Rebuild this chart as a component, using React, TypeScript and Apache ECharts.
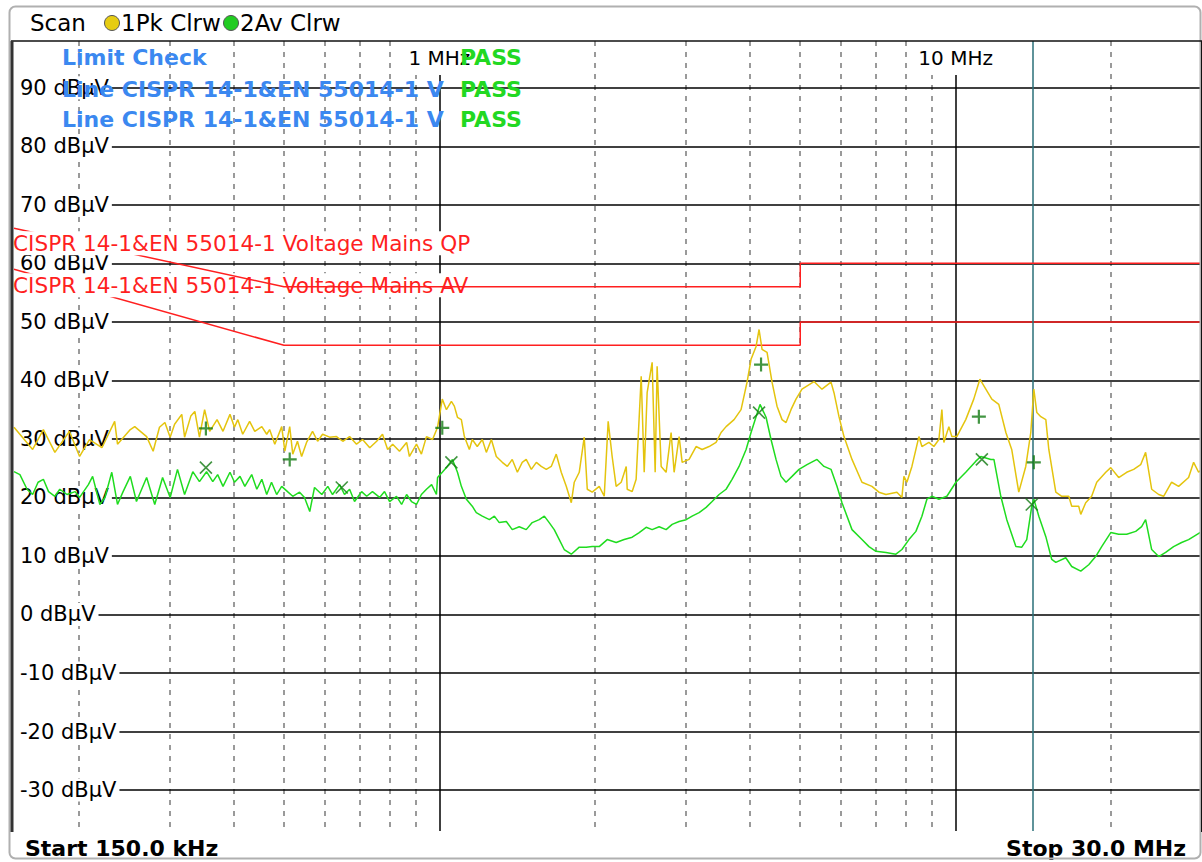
import React, { useEffect, useRef } from "react";
import * as echarts from "echarts";

// ---- Data (frequencies in MHz, levels in dBµV) ----
const PK_FREQ_MHZ = [
  0.150, 0.163, 0.171, 0.180, 0.192, 0.201, 0.210, 0.222, 0.235, 0.238,
  0.252, 0.257, 0.271, 0.279, 0.287, 0.294, 0.301, 0.307, 0.317, 0.321,
  0.330, 0.336, 0.343, 0.351, 0.359, 0.371, 0.381, 0.393, 0.401, 0.407,
  0.416, 0.429, 0.439, 0.453, 0.463, 0.469, 0.480, 0.495, 0.502, 0.513,
  0.520, 0.531, 0.541, 0.553, 0.568, 0.581, 0.594, 0.613, 0.632, 0.650,
  0.670, 0.691, 0.710, 0.733, 0.756, 0.776, 0.794, 0.812, 0.837, 0.864,
  0.875, 0.903, 0.923, 0.944, 0.970, 0.992, 1.013, 1.032, 1.055, 1.069,
  1.084, 1.103, 1.118, 1.143, 1.158, 1.184, 1.211, 1.233, 1.261, 1.289,
  1.324, 1.354, 1.384, 1.416, 1.447, 1.473, 1.507, 1.541, 1.575, 1.611,
  1.647, 1.684, 1.722, 1.761, 1.801, 1.825, 1.866, 1.908, 1.934, 1.977,
  2.040, 2.086, 2.123, 2.161, 2.200, 2.250, 2.301, 2.311, 2.363, 2.405,
  2.460, 2.493, 2.526, 2.583, 2.618, 2.641, 2.689, 2.749, 2.811, 2.849,
  2.913, 2.953, 3.046, 3.142, 3.228, 3.330, 3.435, 3.513, 3.592, 3.722,
  3.840, 3.944, 4.015, 4.106, 4.161, 4.217, 4.312, 4.409, 4.508, 4.610,
  4.693, 4.798, 4.906, 5.039, 5.316, 5.509, 5.735, 5.812, 5.943, 6.077,
  6.298, 6.584, 6.884, 7.102, 7.327, 7.695, 7.868, 7.939, 8.046, 8.227,
  8.488, 8.602, 8.874, 9.074, 9.279, 9.404, 9.488, 9.701, 9.831, 10.05,
  10.46, 10.84, 11.14, 11.44, 11.75, 12.12, 12.51, 12.84, 13.25, 13.67,
  13.98, 14.17, 14.36, 14.62, 14.95, 15.15, 15.63, 16.05, 16.56, 16.78,
  17.31, 17.47, 17.86, 18.34, 18.76, 19.53, 19.97, 20.69, 21.44, 22.12,
  22.82, 23.33, 23.97, 24.73, 25.28, 26.20, 27.03, 28.26, 28.90, 29.55,
  30.0,
];
const PK_LEVEL = [
  32.0, 28.2, 31.6, 27.7, 31.3, 27.0, 29.9, 28.5, 33.0, 29.1,
  31.6, 32.1, 30.4, 27.9, 32.0, 32.8, 30.3, 32.5, 34.2, 30.3,
  33.9, 34.7, 30.3, 35.0, 31.3, 33.3, 31.3, 34.2, 32.0, 33.3,
  30.8, 33.0, 31.3, 32.1, 30.8, 31.6, 29.1, 32.1, 27.9, 32.1,
  27.4, 29.6, 27.0, 29.4, 31.3, 29.6, 30.8, 30.3, 30.4, 29.6,
  30.4, 29.1, 29.9, 28.5, 29.6, 30.8, 28.2, 29.1, 27.9, 29.4,
  27.0, 29.1, 27.4, 30.4, 29.9, 32.0, 36.8, 35.0, 36.4, 35.6,
  33.7, 33.3, 30.4, 28.2, 29.9, 28.7, 29.9, 27.7, 29.9, 27.0,
  26.0, 25.3, 26.5, 24.3, 26.0, 26.5, 24.8, 26.0, 25.3, 24.8,
  25.3, 27.4, 24.3, 21.9, 19.1, 22.6, 24.3, 30.3, 21.4, 20.9,
  21.9, 20.2, 33.0, 27.0, 21.9, 22.6, 25.3, 21.4, 21.0, 23.1,
  40.7, 24.3, 37.9, 43.1, 24.3, 42.4, 25.3, 24.3, 31.1, 24.3,
  30.4, 26.0, 26.5, 28.7, 28.2, 28.7, 29.4, 31.1, 32.1, 33.3,
  35.0, 39.7, 43.6, 45.8, 48.7, 45.3, 44.8, 39.7, 35.6, 33.3,
  32.8, 35.0, 36.8, 38.5, 39.8, 38.5, 39.7, 37.9, 33.8, 30.4,
  26.5, 22.6, 21.9, 20.9, 20.5, 20.9, 20.0, 23.6, 22.6, 25.3,
  30.4, 28.7, 29.4, 28.7, 29.9, 35.0, 29.4, 32.1, 30.4, 30.4,
  33.3, 36.8, 40.2, 38.5, 36.8, 35.9, 31.1, 28.2, 20.9, 25.3,
  31.1, 38.5, 34.5, 33.8, 33.3, 28.2, 20.9, 20.2, 20.2, 18.5,
  18.5, 17.1, 19.1, 20.2, 22.6, 24.3, 25.1, 23.4, 24.3, 24.8,
  25.6, 27.7, 21.4, 20.5, 20.2, 22.6, 21.9, 23.4, 26.0, 24.3,
  24.8,
];

const AV_FREQ_MHZ = [
  0.150, 0.154, 0.159, 0.163, 0.167, 0.171, 0.175, 0.180, 0.184, 0.190,
  0.197, 0.201, 0.209, 0.213, 0.220, 0.225, 0.232, 0.238, 0.244, 0.252,
  0.259, 0.271, 0.281, 0.291, 0.301, 0.311, 0.321, 0.333, 0.343, 0.354,
  0.364, 0.372, 0.381, 0.393, 0.401, 0.411, 0.420, 0.433, 0.443, 0.453,
  0.463, 0.473, 0.484, 0.495, 0.508, 0.520, 0.536, 0.548, 0.561, 0.573,
  0.592, 0.608, 0.621, 0.641, 0.655, 0.670, 0.685, 0.707, 0.723, 0.742,
  0.766, 0.783, 0.801, 0.826, 0.845, 0.864, 0.883, 0.903, 0.923, 0.944,
  0.966, 0.987, 0.992, 1.013, 1.036, 1.060, 1.084, 1.103, 1.128, 1.158,
  1.179, 1.211, 1.250, 1.278, 1.306, 1.348, 1.384, 1.428, 1.473, 1.513,
  1.561, 1.597, 1.632, 1.669, 1.707, 1.745, 1.801, 1.866, 1.925, 1.977,
  2.040, 2.114, 2.200, 2.280, 2.363, 2.438, 2.515, 2.583, 2.665, 2.749,
  2.824, 2.913, 3.006, 3.087, 3.185, 3.286, 3.375, 3.482, 3.592, 3.689,
  3.806, 3.927, 4.015, 4.106, 4.179, 4.293, 4.389, 4.488, 4.589, 4.693,
  4.820, 4.973, 5.153, 5.388, 5.558, 5.735, 5.890, 6.023, 6.298, 6.584,
  6.793, 7.008, 7.327, 7.661, 7.868, 8.118, 8.375, 8.602, 8.796, 8.993,
  9.279, 9.616, 10.01, 10.46, 10.94, 11.19, 11.70, 11.86, 12.23, 12.56,
  13.08, 13.43, 13.73, 14.04, 14.17, 14.49, 14.95, 15.35, 15.63, 16.34,
  16.78, 17.47, 18.10, 18.67, 19.18, 19.97, 20.69, 21.44, 22.32, 22.92,
  23.33, 23.97, 24.73, 25.51, 26.43, 27.39, 28.26, 30.0,
];
const AV_LEVEL = [
  24.4, 23.9, 21.4, 20.5, 22.6, 23.1, 21.0, 20.2, 21.4, 20.5,
  21.0, 20.0, 22.2, 23.6, 18.8, 20.0, 24.3, 18.8, 21.0, 23.6,
  19.3, 23.4, 18.8, 23.4, 20.0, 24.8, 20.5, 24.4, 22.7, 24.4,
  22.7, 23.9, 21.9, 24.3, 22.6, 23.6, 21.9, 23.9, 21.4, 23.1,
  20.5, 22.6, 20.5, 21.9, 21.0, 20.2, 20.9, 20.0, 17.6, 21.7,
  20.5, 21.9, 20.5, 22.2, 20.5, 21.4, 19.3, 21.0, 20.2, 21.0,
  20.0, 21.0, 19.3, 20.2, 18.8, 20.5, 19.3, 18.8, 20.5, 21.4,
  22.2, 20.5, 23.4, 24.3, 25.3, 26.5, 24.3, 21.9, 19.7, 18.5,
  17.4, 16.8, 16.2, 16.8, 15.7, 15.9, 14.5, 15.0, 14.5, 15.7,
  16.2, 16.8, 15.7, 14.5, 12.8, 11.1, 10.3, 11.5, 11.5, 11.6,
  11.6, 12.8, 12.3, 12.8, 13.2, 14.0, 14.9, 14.5, 15.0, 14.5,
  15.4, 15.9, 16.2, 16.8, 17.4, 18.3, 19.3, 20.5, 21.4, 23.1,
  25.3, 28.2, 31.1, 33.8, 35.9, 33.7, 29.9, 26.5, 23.6, 22.6,
  23.6, 24.8, 25.6, 26.5, 25.3, 24.8, 21.9, 19.1, 14.5, 12.8,
  11.6, 10.8, 10.6, 10.3, 11.1, 12.8, 14.2, 16.8, 19.7, 20.2,
  19.7, 20.2, 22.6, 24.3, 26.2, 27.0, 26.5, 26.5, 20.2, 16.2,
  11.6, 11.5, 12.8, 18.5, 19.7, 16.8, 13.3, 9.4, 8.9, 9.7,
  8.2, 7.4, 8.5, 9.9, 11.6, 14.0, 13.7, 13.7, 14.2, 15.0,
  16.2, 11.1, 9.9, 10.6, 11.6, 12.3, 12.8, 14.2,
];

const QP_LIMIT_FREQ = [0.15, 0.5, 5, 5, 30];
const QP_LIMIT_LEVEL = [66, 56, 56, 60, 60];
const AV_LIMIT_FREQ = [0.15, 0.5, 5, 5, 30];
const AV_LIMIT_LEVEL = [59, 46, 46, 50, 50];
const QP_LIMIT_NAME = "CISPR 14-1&EN 55014-1 Voltage Mains QP";
const AV_LIMIT_NAME = "CISPR 14-1&EN 55014-1 Voltage Mains AV";

const PK_MARK_FREQ = [0.353, 0.513, 1.013, 4.198, 11.09, 14.17];
const PK_MARK_LEVEL = [31.8, 26.5, 31.9, 42.7, 33.8, 26.0];
const AV_MARK_FREQ = [0.353, 0.647, 1.055, 4.161, 11.24, 14.04];
const AV_MARK_LEVEL = [25.1, 21.7, 26.0, 34.5, 26.5, 18.8];

const MARKER_LINE_MHZ = [14.17];
const Y_TICKS = [-30, -20, -10, 0, 10, 20, 30, 40, 50, 60, 70, 80, 90];
const MINOR_GRID_MHZ = [0.2, 0.3, 0.4, 0.5, 0.6, 0.7, 0.8, 0.9, 2, 3, 4, 5, 6, 7, 8, 9, 20];
const DECADE_MHZ = [1, 10];
const DECADE_LABELS = ["1 MHz", "10 MHz"];
const X_MIN_MHZ = 0.15;
const X_MAX_MHZ = 30;
const Y_MIN = -37;
const Y_MAX = 98;

const lg = (v: number) => Math.log10(v);
const zip = (f: number[], l: number[]) => f.map((v, i) => [lg(v), l[i]]);
const FONT = '"DejaVu Sans", Verdana, sans-serif';
const font = (size: number, bold = false) => `${bold ? "bold " : ""}${size}px ${FONT}`;
const RED = "#ff1f1f";

// A limit's name box, anchored at the limit's first point, drawn by a custom series
function limitLabelSeries(name: string, freq: number[], level: number[], dy: number, z: number) {
  return {
    name: name + " label",
    type: "custom",
    silent: true,
    clip: false,
    z,
    data: [[lg(freq[0]), level[0]]],
    renderItem: (_params: any, api: any) => {
      const p = api.coord([api.value(0), api.value(1)]);
      return {
        type: "group",
        z2: 50,
        children: [
          { type: "rect", z2: 50, shape: { x: p[0] - 1, y: p[1] + dy - 12, width: 462, height: 24 }, style: { fill: "#ffffff" } },
          { type: "text", z2: 51, x: p[0] - 1, y: p[1] + dy, style: { text: name, fill: RED, font: font(21.6), verticalAlign: "middle", align: "left" } },
        ],
      };
    },
  };
}

export default function App() {
  const ref = useRef<HTMLDivElement>(null);
  useEffect(() => {
    if (!ref.current) return;
    const chart = echarts.init(ref.current, null, { renderer: "svg" });
    const decadeLogs = DECADE_MHZ.map(lg);
    const blue = "#3b88f0";
    const pass = "#22d822";
    const option: any = {
      animation: false,
      backgroundColor: "#fff",
      grid: { left: 14, right: -2, top: 41, bottom: 31, containLabel: false },
      xAxis: [
        {
          type: "value",
          min: lg(X_MIN_MHZ),
          max: lg(X_MAX_MHZ),
          z: 0,
          axisLine: { show: false },
          axisTick: { show: false, customValues: MINOR_GRID_MHZ.map(lg) },
          axisLabel: { show: false, customValues: MINOR_GRID_MHZ.map(lg) },
          splitLine: { show: true, lineStyle: { color: "#7a7a7a", width: 1.5, type: [5, 6] } },
        },
        {
          type: "value",
          position: "top",
          min: lg(X_MIN_MHZ),
          max: lg(X_MAX_MHZ),
          z: 1,
          axisLine: { show: false },
          axisTick: { show: false, customValues: decadeLogs },
          axisLabel: {
            show: true,
            inside: true,
            customValues: decadeLogs,
            margin: 0,
            formatter: (v: number) => DECADE_LABELS[Math.round(v)] ?? "",
            color: "#000",
            fontFamily: FONT,
            fontSize: 20,
            backgroundColor: "#fff",
            padding: [7, 4, 7, 4],
          },
          splitLine: { show: true, lineStyle: { color: "#000", width: 1.5 } },
        },
      ],
      yAxis: {
        type: "value",
        min: Y_MIN,
        max: Y_MAX,
        z: 2,
        axisLine: { show: false },
        axisTick: { show: false, customValues: Y_TICKS },
        splitLine: { show: true, lineStyle: { color: "#000", width: 1.5 } },
        axisLabel: {
          show: true,
          inside: true,
          customValues: Y_TICKS,
          margin: 0,
          formatter: (v: number) => `${v} dBµV`,
          color: "#000",
          fontFamily: FONT,
          fontSize: 21,
          backgroundColor: "#fff",
          padding: [1, 3, 1, 6],
        },
      },
      series: [
        {
          name: "marker line",
          type: "line",
          data: [],
          z: 3,
          markLine: {
            silent: true,
            symbol: ["none", "none"],
            label: { show: false },
            lineStyle: { color: "#2a6f78", width: 1.5, type: "solid" },
            data: MARKER_LINE_MHZ.map((f) => ({ xAxis: lg(f) })),
          },
        },
        {
          name: "AV limit",
          type: "line",
          data: zip(AV_LIMIT_FREQ, AV_LIMIT_LEVEL),
          symbol: "none",
          z: 4,
          lineStyle: { color: RED, width: 1.5 },
        },
        limitLabelSeries(AV_LIMIT_NAME, AV_LIMIT_FREQ, AV_LIMIT_LEVEL, 16, 5),
        {
          name: "QP limit",
          type: "line",
          data: zip(QP_LIMIT_FREQ, QP_LIMIT_LEVEL),
          symbol: "none",
          z: 6,
          lineStyle: { color: RED, width: 1.5 },
        },
        limitLabelSeries(QP_LIMIT_NAME, QP_LIMIT_FREQ, QP_LIMIT_LEVEL, 15, 7),
        {
          name: "1Pk Clrw",
          type: "line",
          data: zip(PK_FREQ_MHZ, PK_LEVEL),
          symbol: "none",
          z: 8,
          lineStyle: { color: "#e4c40e", width: 1.5 },
        },
        {
          name: "2Av Clrw",
          type: "line",
          data: zip(AV_FREQ_MHZ, AV_LEVEL),
          symbol: "none",
          z: 9,
          lineStyle: { color: "#1fdc1f", width: 1.5 },
        },
        {
          name: "Pk markers",
          type: "scatter",
          silent: true,
          data: zip(PK_MARK_FREQ, PK_MARK_LEVEL),
          symbol: "path://M0,5L10,5M5,0L5,10",
          symbolSize: 14,
          z: 10,
          itemStyle: { color: "#137a13", borderColor: "#137a13", borderWidth: 2.2 },
        },
        {
          name: "Av markers",
          type: "scatter",
          silent: true,
          data: zip(AV_MARK_FREQ, AV_MARK_LEVEL),
          symbol: "path://M0,0L10,10M10,0L0,10",
          symbolSize: 12,
          z: 10,
          itemStyle: { color: "#137a13", borderColor: "#137a13", borderWidth: 1.6 },
        },
      ],
      graphic: [
        { type: "text", x: 62, y: 57, z: 11, silent: true, style: { text: "Limit Check", fill: blue, font: font(22, true), verticalAlign: "middle" } },
        { type: "text", x: 62, y: 89, z: 11, silent: true, style: { text: "Line CISPR 14-1&EN 55014-1 V", fill: blue, font: font(22, true), verticalAlign: "middle" } },
        { type: "text", x: 62, y: 119, z: 11, silent: true, style: { text: "Line CISPR 14-1&EN 55014-1 V", fill: blue, font: font(22, true), verticalAlign: "middle" } },
        { type: "text", x: 460, y: 57, z: 11, silent: true, style: { text: "PASS", fill: pass, font: font(22, true), verticalAlign: "middle" } },
        { type: "text", x: 460, y: 89, z: 11, silent: true, style: { text: "PASS", fill: pass, font: font(22, true), verticalAlign: "middle" } },
        { type: "text", x: 460, y: 119, z: 11, silent: true, style: { text: "PASS", fill: pass, font: font(22, true), verticalAlign: "middle" } },
        { type: "text", x: 30, y: 23, z: 12, silent: true, style: { text: "Scan", fill: "#000", font: font(23), verticalAlign: "middle" } },
        { type: "circle", z: 12, silent: true, shape: { cx: 112, cy: 23, r: 7.5 }, style: { fill: "#e6cc12", stroke: "#555", lineWidth: 1 } },
        { type: "text", x: 121, y: 23, z: 12, silent: true, style: { text: "1Pk Clrw", fill: "#000", font: font(23), verticalAlign: "middle" } },
        { type: "circle", z: 12, silent: true, shape: { cx: 231, cy: 23, r: 7.5 }, style: { fill: "#22cc22", stroke: "#555", lineWidth: 1 } },
        { type: "text", x: 240, y: 23, z: 12, silent: true, style: { text: "2Av Clrw", fill: "#000", font: font(23), verticalAlign: "middle" } },
        { type: "text", x: 25, y: 848, z: 12, silent: true, style: { text: "Start 150.0 kHz", fill: "#000", font: font(22, true), verticalAlign: "middle" } },
        { type: "text", x: 1186, y: 848, z: 12, silent: true, style: { text: "Stop 30.0 MHz", fill: "#000", font: font(22, true), verticalAlign: "middle", align: "right" } },
        { type: "rect", z: 13, silent: true, shape: { x: 9.5, y: 6.5, width: 1191, height: 852, r: 6 }, style: { fill: "none", stroke: "#b0b0b0", lineWidth: 2 } },
        { type: "line", z: 13, silent: true, shape: { x1: 11, y1: 41, x2: 1202, y2: 41 }, style: { stroke: "#111", lineWidth: 1.5 } },
        { type: "line", z: 13, silent: true, shape: { x1: 12, y1: 41, x2: 12, y2: 832 }, style: { stroke: "#333", lineWidth: 3 } },
        { type: "line", z: 13, silent: true, shape: { x1: 1201.5, y1: 41, x2: 1201.5, y2: 832 }, style: { stroke: "#111", lineWidth: 1 } },
      ],
    };
    chart.setOption(option);
    return () => chart.dispose();
  }, []);
  return (
    <div
      ref={ref}
      style={{ position: "absolute", left: 0, top: 0, width: 1202, height: 862, background: "#fff" }}
    />
  );
}
